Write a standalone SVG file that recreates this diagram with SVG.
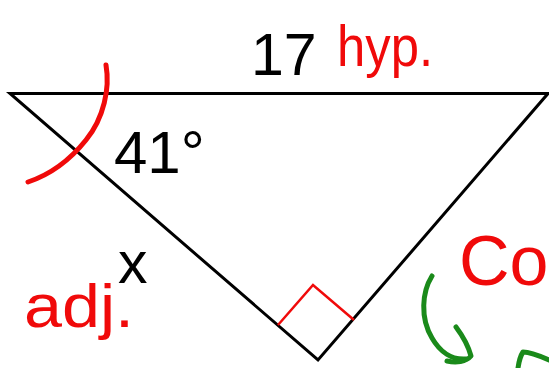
<svg xmlns="http://www.w3.org/2000/svg" width="549" height="368" viewBox="0 0 549 368">
<style>
.lbl{font-family:"Liberation Sans",Arial,sans-serif;fill:#000}
.hand{font-family:"Liberation Sans",Arial,sans-serif;fill:#f00a0a}
.ink{fill:none;stroke-linecap:round;stroke-linejoin:round}
</style>
<rect width="549" height="368" fill="#fff"/>
<g id="connectors">
<path id="triangle" d="M10,93.5 L548,93.5 L318,360 Z" fill="none" stroke="#000" stroke-width="3" stroke-linejoin="miter"/>
</g>
<g id="right-angle">
<path d="M278,325 L313,285 L354,320" fill="none" stroke="#f00a0a" stroke-width="2.5"/>
</g>
<g id="angle-arc">
<path class="ink" d="M106,65 C110,88 104,118 86,140 C70,160 52,174 28,182" stroke="#f00a0a" stroke-width="5"/>
</g>
<g id="label-17"><text class="lbl" x="251" y="75" font-size="59">17</text></g>
<g id="label-hyp"><text class="hand" x="337" y="66" font-size="58" textLength="96" lengthAdjust="spacingAndGlyphs">hyp.</text></g>
<g id="label-41"><text class="lbl" x="114" y="173" font-size="60">41°</text></g>
<g id="label-x"><text class="lbl" x="118" y="283" font-size="59">x</text></g>
<g id="label-adj"><text class="hand" x="24" y="327" font-size="62" textLength="110" lengthAdjust="spacingAndGlyphs">adj.</text></g>
<g id="label-co"><text class="hand" x="459" y="285" font-size="70">Co</text></g>
<g id="green-arrow">
<path class="ink" d="M432,276 C422,292 420,318 432,338 C440,352 452,360 466,359" stroke="#1a8a1a" stroke-width="5"/>
<path class="ink" d="M456,327 C462,335 468,345 471,356 C466,362 456,363 447,361" stroke="#1a8a1a" stroke-width="5"/>
<path class="ink" d="M518,368 C519,361 521,355 523,352 C530,352 540,356 549,360" stroke="#1a8a1a" stroke-width="5"/>
</g>
</svg>
